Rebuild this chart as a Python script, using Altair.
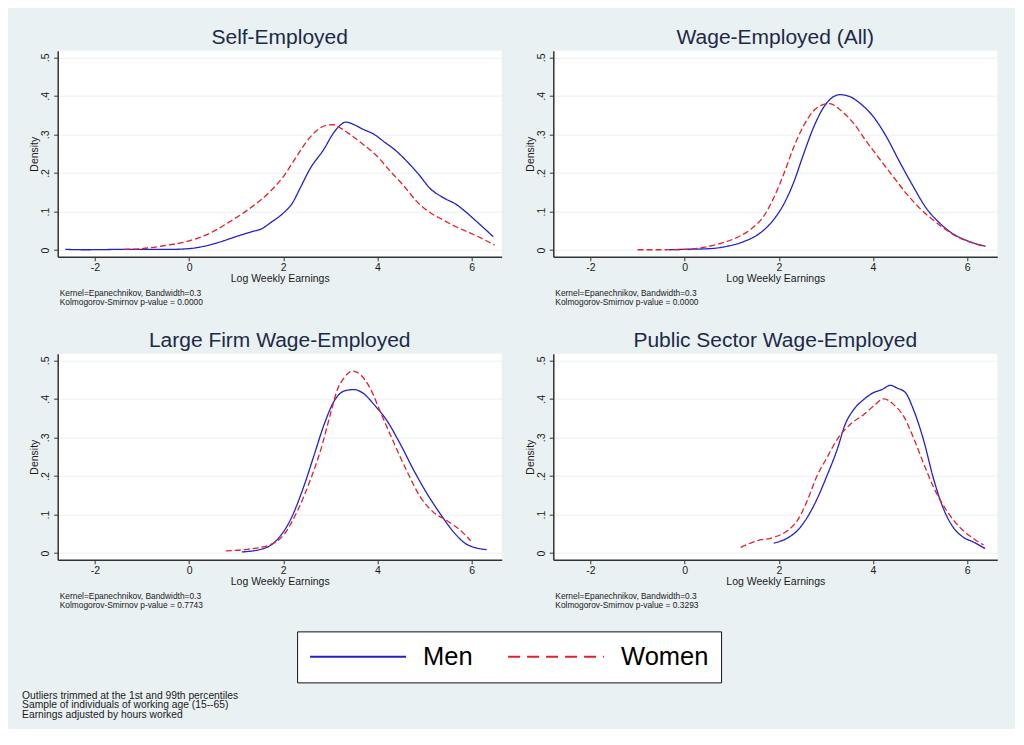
import altair as alt
import pandas as pd

SEXES = ["Men", "Women"]
COLORS = ["#2222c8", "#e2202a"]
PANELS = ["Self-Employed", "Wage-Employed (All)", "Large Firm Wage-Employed", "Public Sector Wage-Employed"]
KS_PVALUES = ["0.0000", "0.0000", "0.7743", "0.3293"]
XTICKS = [-2, 0, 2, 4, 6]
YTICKS = [0, 0.1, 0.2, 0.3, 0.4, 0.5]
NOTES = ["Outliers trimmed at the 1st and 99th percentiles",
         "Sample of individuals of working age (15--65)",
         "Earnings adjusted by hours worked"]

# Self-Employed
self_men_x = [-2.63, -2.2, -1.8, -1.4, -1.0, -0.6, -0.39, 0.0, 0.14, 0.6, 1.02, 1.31, 1.55, 1.73, 2.01, 2.19,
              2.36, 2.57, 2.86, 3.07, 3.21, 3.33, 3.49, 3.70, 3.92, 4.13, 4.41, 4.69, 4.90, 5.11, 5.40, 5.68,
              5.82, 6.10, 6.46]
self_men_y = [0.002, 0.001, 0.0015, 0.002, 0.002, 0.002, 0.002, 0.004, 0.006, 0.019, 0.036, 0.047, 0.056,
              0.071, 0.097, 0.121, 0.161, 0.211, 0.261, 0.304, 0.324, 0.332, 0.326, 0.313, 0.301, 0.282,
              0.256, 0.222, 0.193, 0.161, 0.136, 0.118, 0.105, 0.075, 0.035]
self_women_x = [-1.38, -1.0, -0.5, 0.0, 0.46, 0.88, 1.31, 1.73, 2.01, 2.29, 2.50, 2.72, 2.93, 3.07, 3.21,
                3.42, 3.70, 3.99, 4.27, 4.55, 4.83, 5.11, 5.40, 5.68, 5.96, 6.24, 6.49]
self_women_y = [0.002, 0.004, 0.012, 0.024, 0.045, 0.075, 0.110, 0.153, 0.192, 0.244, 0.282, 0.311, 0.324,
                0.325, 0.317, 0.300, 0.274, 0.244, 0.205, 0.168, 0.127, 0.098, 0.078, 0.060, 0.045, 0.029,
                0.013]

# Wage-Employed (All)
wage_men_x = [-0.32, 0.0, 0.55, 0.90, 1.25, 1.61, 1.89, 2.10, 2.31, 2.52, 2.73, 2.94, 3.08, 3.30, 3.51,
              3.72, 4.0, 4.28, 4.56, 4.85, 5.13, 5.41, 5.69, 5.97, 6.39]
wage_men_y = [0.001, 0.002, 0.004, 0.010, 0.022, 0.045, 0.079, 0.118, 0.174, 0.247, 0.316, 0.368, 0.390,
              0.403, 0.398, 0.381, 0.347, 0.295, 0.230, 0.166, 0.109, 0.071, 0.043, 0.026, 0.010]
wage_women_x = [-1.0, -0.5, 0.0, 0.34, 0.69, 1.04, 1.39, 1.68, 1.89, 2.10, 2.31, 2.52, 2.73, 2.94, 3.08,
                3.30, 3.58, 3.86, 4.15, 4.42, 4.70, 4.99, 5.27, 5.55, 5.83, 6.11, 6.36]
wage_women_y = [0.001, 0.001, 0.002, 0.006, 0.015, 0.029, 0.053, 0.088, 0.135, 0.196, 0.265, 0.321, 0.360,
                0.377, 0.380, 0.364, 0.330, 0.282, 0.235, 0.192, 0.148, 0.109, 0.079, 0.053, 0.032, 0.019,
                0.009]

# Large Firm Wage-Employed
large_men_x = [1.12, 1.59, 1.88, 2.16, 2.44, 2.65, 2.87, 3.08, 3.29, 3.50, 3.68, 3.93, 4.21, 4.49, 4.78,
               5.06, 5.34, 5.63, 5.91, 6.32]
large_men_y = [0.003, 0.012, 0.036, 0.088, 0.174, 0.252, 0.334, 0.394, 0.420, 0.424, 0.416, 0.385, 0.342,
               0.282, 0.213, 0.153, 0.101, 0.053, 0.022, 0.009]
large_women_x = [0.78, 1.24, 1.73, 2.02, 2.30, 2.58, 2.80, 3.01, 3.15, 3.29, 3.47, 3.64, 3.86, 4.07, 4.35,
                 4.64, 4.92, 5.20, 5.48, 5.77, 5.98]
large_women_y = [0.006, 0.010, 0.022, 0.049, 0.109, 0.191, 0.269, 0.364, 0.424, 0.454, 0.472, 0.463, 0.424,
                 0.364, 0.286, 0.209, 0.144, 0.105, 0.084, 0.058, 0.032]

# Public Sector Wage-Employed
public_men_x = [1.89, 2.21, 2.39, 2.60, 2.81, 3.02, 3.24, 3.41, 3.59, 3.80, 4.01, 4.19, 4.37, 4.51, 4.69,
                4.86, 5.07, 5.29, 5.50, 5.71, 5.92, 6.13, 6.38]
public_men_y = [0.026, 0.041, 0.058, 0.092, 0.140, 0.200, 0.269, 0.334, 0.372, 0.398, 0.416, 0.424, 0.435,
                0.428, 0.416, 0.372, 0.295, 0.191, 0.114, 0.066, 0.041, 0.029, 0.012]
public_women_x = [1.19, 1.54, 1.89, 2.18, 2.39, 2.60, 2.81, 3.02, 3.24, 3.52, 3.80, 4.01, 4.23, 4.44, 4.65,
                  4.86, 5.07, 5.29, 5.57, 5.85, 6.13, 6.35]
public_women_y = [0.015, 0.032, 0.041, 0.058, 0.084, 0.135, 0.200, 0.247, 0.295, 0.334, 0.359, 0.381, 0.400,
                  0.385, 0.355, 0.299, 0.234, 0.170, 0.109, 0.066, 0.038, 0.021]

SERIES = [
    ((self_men_x, self_men_y), (self_women_x, self_women_y)),
    ((wage_men_x, wage_men_y), (wage_women_x, wage_women_y)),
    ((large_men_x, large_men_y), (large_women_x, large_women_y)),
    ((public_men_x, public_men_y), (public_women_x, public_women_y)),
]

FONT = "Liberation Sans"
W, H = 444, 206
TXT = "#1a1a1a"
GRID = "#e9f0f2"

legend_kw = dict(
    title=None, orient="none", legendX=239.4, legendY=580.7, direction="horizontal",
    symbolType="M-1,0H7", symbolSize=576, symbolStrokeWidth=2, labelFontSize=25.5,
    labelFont=FONT, labelColor="#000000", labelOffset=88, columnPadding=31, padding=12,
    strokeColor="#111111", fillColor="#ffffff",
    symbolDash={"expr": "datum.value === 'Women' ? [12, 7] : [1, 0]"},
)


def panel(i):
    rows = []
    for sex, (xs, ys) in zip(SEXES, SERIES[i]):
        for xv, yv in zip(xs, ys):
            rows.append({"x": xv, "density": yv, "sex": sex})
    df = pd.DataFrame(rows)
    lines = alt.Chart(df).mark_line(strokeWidth=1.3, interpolate="monotone").encode(
        x=alt.X("x:Q",
                scale=alt.Scale(domain=[-2.79, 6.64], nice=False, zero=False),
                axis=alt.Axis(values=XTICKS, title="Log Weekly Earnings", grid=False,
                              labelExpr="'' + datum.value", labelFlush=False, labelFontSize=10.5,
                              labelFont=FONT, labelColor=TXT, labelPadding=2, tickSize=4,
                              tickColor="#333333", domainColor="#333333", domainWidth=1.5,
                              titleFont=FONT, titleFontSize=10.5, titleFontWeight="normal",
                              titleColor=TXT, titlePadding=0)),
        y=alt.Y("density:Q",
                scale=alt.Scale(domain=[-0.017, 0.517], nice=False, zero=False),
                axis=alt.Axis(values=YTICKS, title="Density", grid=True, gridColor=GRID, gridWidth=1,
                              labelExpr="datum.value == 0 ? '0' : replace(format(datum.value, '.1f'), '0.', '.')",
                              labelAngle=270, labelAlign="center", labelBaseline="alphabetic",
                              labelFontSize=10.5, labelFont=FONT, labelColor=TXT, labelPadding=5,
                              labelOverlap=False, labelFlush=False,
                              tickSize=4, tickColor="#333333", domainColor="#333333", domainWidth=1.5,
                              titleFont=FONT, titleFontSize=10.5, titleFontWeight="normal",
                              titleColor=TXT, titlePadding=1)),
        color=alt.Color("sex:N", scale=alt.Scale(domain=SEXES, range=COLORS), legend=alt.Legend(**legend_kw)),
        strokeDash=alt.when(alt.datum.sex == "Women").then(alt.value([6, 3])).otherwise(alt.value([1, 0])),
        detail="sex:N",
    )
    note = alt.Chart(pd.DataFrame({"k": [0]})).mark_text(
        align="left", baseline="alphabetic", fontSize=8.4, font=FONT, color=TXT, lineHeight=9
    ).encode(
        x=alt.value(2), y=alt.value(245),
        text=alt.value(["Kernel=Epanechnikov, Bandwidth=0.3",
                        "Kolmogorov-Smirnov p-value = " + KS_PVALUES[i]]),
    )
    layers = [lines, note]
    if i == 2:
        foot = alt.Chart(pd.DataFrame({"k": [0]})).mark_text(
            align="left", baseline="alphabetic", fontSize=10.3, font=FONT, color=TXT, lineHeight=9.8
        ).encode(x=alt.value(-35.6), y=alt.value(345), text=alt.value(NOTES))
        layers.append(foot)
    return alt.layer(*layers).properties(
        width=W, height=H,
        title=alt.TitleParams(PANELS[i], fontSize=21, font=FONT, fontWeight="normal", color="#1c2a48",
                              anchor="middle", baseline="alphabetic", offset=-14),
    )


chart = alt.concat(
    *[panel(i) for i in range(4)], columns=2,
    spacing=alt.RowColnumber(row=97, column=51.6), bounds="flush",
).properties(
    padding={"left": 13.7, "top": 18.7, "right": 17, "bottom": 8},
    background="#eaf1f3",
).configure_view(strokeWidth=0, fill="white")

chart.save("out.html", embed_options={"renderer": "svg", "actions": False})
